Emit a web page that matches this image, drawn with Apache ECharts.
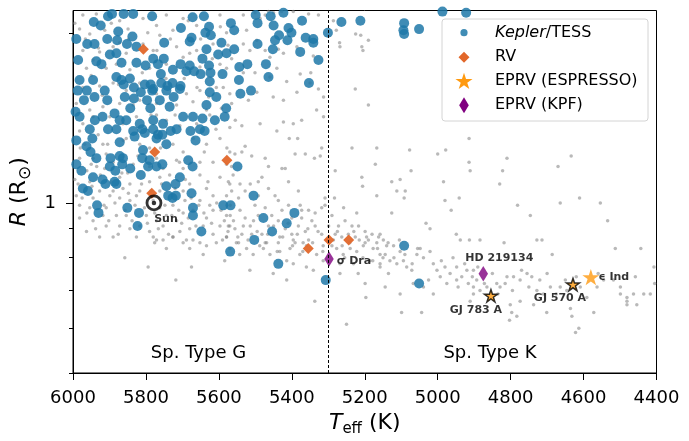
<!DOCTYPE html>
<html>
<head>
<meta charset="utf-8">
<script src="https://cdn.jsdelivr.net/npm/echarts@6/dist/echarts.min.js"></script>
<style>
  html, body { margin: 0; padding: 0; background: #fff; }
  #chart { width: 689px; height: 441px; }
</style>
</head>
<body>
<div id="chart"></div>
<script>
// ---- data: effective temperature (K) and radius (solar radii) ----

// Transiting planet hosts (Kepler / TESS)
const keplerTess = [
  [5904,2.14],[5893,2.16],[5861,2.16],[5835,2.16],[5783,2.14],[5672,2.13],[5641,2.14],[5943,2.09],[5924,2.06],[5567,2.08],
  [5627,2.05],[5704,2.04],[5637,2.00],[5876,2.01],[5991,1.95],[5837,1.97],[5622,1.98],[5675,1.96],[5906,1.95],[5879,1.94],
  [5750,1.92],[5961,1.91],[5941,1.91],[5852,1.91],[5680,1.93],[5593,1.92],[5826,1.89],[5634,1.87],[5881,1.84],[5899,1.83],
  [5780,1.80],[5751,1.80],[5602,1.83],[5579,1.84],[5645,1.80],[5986,1.79],[5936,1.78],[5922,1.76],[5867,1.77],[5826,1.77],
  [5801,1.75],[5767,1.76],[5705,1.76],[5680,1.75],[5627,1.75],[5623,1.70],[5650,1.69],[5726,1.72],[5689,1.71],[5759,1.69],
  [5668,1.71],[5982,1.65],[5945,1.65],[5881,1.67],[5867,1.65],[5861,1.62],[5844,1.66],[5833,1.60],[5803,1.62],[5787,1.62],
  [5783,1.58],[5758,1.63],[5727,1.63],[5741,1.61],[5705,1.61],[5625,1.64],[5590,1.69],[5625,1.57],[5987,1.58],[5962,1.58],
  [5970,1.52],[5941,1.54],[5913,1.58],[5906,1.52],[5858,1.54],[5833,1.53],[5814,1.57],[5797,1.52],[5780,1.59],[5762,1.52],
  [5744,1.58],[5724,1.54],[5707,1.59],[5735,1.48],[5788,1.47],[5843,1.47],[5886,1.44],[5919,1.42],[5940,1.40],[5982,1.42],
  [5993,1.45],[5872,1.40],[5854,1.40],[5817,1.38],[5780,1.40],[5753,1.38],[5698,1.42],[5671,1.42],[5634,1.49],[5607,1.54],
  [5584,1.42],[5611,1.40],[5645,1.41],
  [5499,2.15],[5423,2.17],[5458,2.14],[5494,2.08],[5372,2.10],[5264,2.09],[5212,2.10],[5558,2.02],[5450,2.06],[5409,2.04],
  [5401,2.00],[5435,1.98],[5446,1.94],[5412,1.94],[5362,1.96],[5341,1.95],[5341,1.92],[5301,2.00],[5494,1.91],[5558,1.87],
  [5452,1.87],[5377,1.85],[5327,1.79],[5522,1.76],[5544,1.74],[5471,1.76],[5464,1.67],[5545,1.65],[5353,1.63],[5512,1.58],
  [5541,1.56],[5580,1.47],
  [5092,2.08],[5094,2.02],[5092,1.99],[5051,2.03],[4987,2.18],[4922,2.17],
  [5954,1.35],[5904,1.35],[5881,1.35],[5835,1.34],[5831,1.31],[5810,1.35],[5803,1.33],[5780,1.35],[5767,1.32],[5755,1.32],
  [5732,1.34],[5716,1.35],[5678,1.34],[5664,1.29],[5652,1.35],[5639,1.34],[5947,1.30],[5872,1.28],[5771,1.30],[5744,1.27],
  [5991,1.29],[5963,1.26],[5952,1.23],[5936,1.20],[5897,1.20],[5872,1.21],[5863,1.20],[5808,1.24],[5810,1.20],[5790,1.19],
  [5771,1.16],[5755,1.17],[5865,1.17],[5794,1.16],[5843,1.15],[5991,1.17],[5977,1.14],[5899,1.16],[5884,1.14],[5945,1.11],
  [5919,1.10],[5911,1.08],[5886,1.09],[5881,1.08],[5814,1.12],[5707,1.11],[5719,1.08],[5744,1.07],[5684,1.19],[5672,1.16],
  [5675,1.04],[5973,1.06],[5959,1.05],[5934,0.99],[5930,0.96],[5851,0.98],[5819,0.96],[5823,0.91],[5739,1.03],[5727,1.02],
  [5718,1.03],[5671,0.98],[5671,0.95],[5648,0.89],[5588,0.99],[5568,0.99],
  [5549,1.16],[5505,1.03],[5478,0.94],[5393,0.96],[5414,0.92],[5454,0.89],[5503,0.86],
  [5569,0.82],[5437,0.78],[5307,0.73],[5092,0.84],[5051,0.72]
];

// Radial-velocity targets
const rvStars = [
  [5807,1.87],[5776,1.23],[5784,1.04],[5578,1.19],[5355,0.83],[5298,0.86],[5244,0.86]
];

// Extreme-precision RV targets
const espressoNames  = ['GJ 783 A', 'GJ 570 A', 'ϵ Ind'];
const espressoTeff   = [4854, 4629, 4580];
const espressoRadius = [0.685, 0.717, 0.739];

const kpfNames  = ['σ Dra', 'HD 219134'];
const kpfTeff   = [5298, 4875];
const kpfRadius = [0.796, 0.749];

const sunStar = { name: 'Sun', teff: 5778, radius: 1.0 };

// Field stars from the background sample
const fieldStars = [
  [5973,2.15],[5936,2.16],[5872,2.10],[5808,2.12],[5744,2.15],[5698,2.12],[5597,2.15],[5982,2.03],[5954,1.99],[5913,2.02],
  [5849,2.03],[5771,2.06],[5726,2.02],[5661,2.06],[5579,2.00],[5973,1.86],[5927,1.85],[5890,1.89],[5854,1.84],[5808,1.91],
  [5780,1.86],[5716,1.89],[5661,1.86],[5616,1.91],[5575,1.90],[5963,1.73],[5909,1.73],[5881,1.76],[5844,1.72],[5790,1.73],
  [5744,1.76],[5698,1.81],[5652,1.74],[5597,1.76],[5579,1.73],[5973,1.60],[5927,1.61],[5890,1.63],[5854,1.58],[5817,1.63],
  [5771,1.56],[5689,1.56],[5652,1.58],[5607,1.60],[5570,1.56],[5991,1.50],[5954,1.46],[5918,1.48],[5872,1.50],[5817,1.52],
  [5771,1.50],[5716,1.49],[5671,1.51],[5634,1.46],[5593,1.47],[5565,1.50],[5973,1.38],[5945,1.42],[5899,1.42],[5863,1.38],
  [5826,1.42],[5771,1.43],[5744,1.40],[5707,1.37],[5661,1.38],[5625,1.43],[5570,1.36],[5872,1.92],[5762,1.98],[5680,1.84],
  [5945,1.79],
  [5278,2.02],[5269,1.92],[5268,1.89],[5225,1.99],[5211,1.98],[5208,1.89],[5205,1.86],[5190,1.94],[5226,1.59],[5190,1.49],
  [5533,2.15],[5524,2.02],[5501,2.17],[5487,2.12],[5473,2.15],[5464,2.18],[5450,2.17],[5428,2.18],[5396,2.18],[5354,2.16],
  [5327,2.15],[5286,2.10],[5533,1.91],[5515,1.86],[5496,1.94],[5473,1.86],[5460,1.81],[5437,1.87],[5423,1.84],[5386,1.89],
  [5341,1.82],[5533,1.70],[5501,1.70],[5460,1.67],[5441,1.73],[5414,1.64],[5377,1.69],[5348,1.70],[5519,1.52],[5496,1.57],
  [5451,1.54],[5423,1.52],[5386,1.57],[5350,1.63],[5327,1.59],[5313,1.54],[5537,1.37],[5487,1.38],[5423,1.39],[5396,1.38],
  [5373,1.40],[5332,1.46],[5313,1.42],
  [5441,1.34],[5407,1.30],[5384,1.30],[5318,1.25],[5235,1.25],[5167,1.25],[5208,1.11],[5206,1.07],[5171,1.17],[5167,1.03],
  [5281,1.14],[5283,1.02],[5309,1.02],[5322,1.21],[5363,1.22],[5338,1.20],[5391,1.22],[5427,1.15],[5418,1.15],[5473,1.20],
  [5464,1.16],[5482,1.11],[5510,1.21],[5537,1.23],[5528,1.26],[5556,1.22],[5565,1.16],[5574,1.09],[5542,1.08],[5514,1.08],
  [5492,1.09],[5464,1.06],[5446,1.03],[5437,1.01],[5409,0.99],[5377,0.99],[5373,0.97],[5354,0.97],[5336,0.96],[5318,0.98],
  [5309,0.99],[5290,0.95],[5272,0.91],[5254,0.93],[5235,0.91],[5217,0.91],[5199,0.89],[5180,0.88],[5162,0.87],[5222,0.96],
  [5258,0.98],[5569,0.95],[5542,0.97],[5528,0.94],[5514,0.91],[5492,0.95],[5501,0.99],[5473,0.98],[5546,1.02],[5565,1.05],
  [5574,0.91],[5556,0.90],[5537,0.88],[5510,0.88],[5482,0.88],[5464,0.91],[5437,0.93],[5418,0.90],[5400,0.88],[5382,0.91],
  [5363,0.89],[5336,0.91],[5318,0.88],[5354,0.86],[5391,0.85],[5437,0.85],[5473,0.85],[5546,0.85],[5528,1.05],[5492,1.03],
  [5455,0.95],[5427,0.97],[5400,0.94],[5373,0.94],[5345,0.93],[5299,0.91],[5281,0.88],[5263,0.87],[5245,0.88],[5226,0.87],
  [5199,0.85],[5569,0.99],[5409,1.09],[5382,1.05],
  [5858,0.80],[5794,0.77],[5718,0.73],[5675,0.77],[5584,0.79],[5515,0.76],[5451,0.75],[5414,0.73],[5360,0.77],[5341,0.76],
  [5337,0.67],[5250,0.61],[5199,0.72],[5197,0.68],[5268,0.75],[5218,0.75],[5780,0.87],[5753,0.86],[5726,0.87],[5698,0.85],
  [5671,0.86],[5634,0.84],[5607,0.85],[5579,0.87],[5552,0.85],[5524,0.83],[5488,0.84],[5469,0.85],[5433,0.82],[5405,0.83],
  [5378,0.81],[5360,0.84],[5332,0.81],[5277,0.83],[5259,0.81],[5222,0.82],[5204,0.84],[5177,0.83],[5158,0.81],[5433,0.87],
  [5396,0.86],[5369,0.85],[5314,0.84],[5286,0.86],[5241,0.85],[5195,0.87],[5167,0.85],[5543,0.81],[5506,0.81],[5460,0.81],
  [5414,0.79],[5396,0.78],[5314,0.79],[5268,0.78],[5231,0.78],[5186,0.79],[5158,0.77],[5776,0.85],[5680,0.83],[5643,0.81],
  [5570,0.83],[5744,0.83],
  [5982,1.34],[5968,1.27],[5931,1.32],[5918,1.27],[5854,1.30],[5817,1.27],[5790,1.25],[5726,1.27],[5698,1.23],[5634,1.27],
  [5597,1.30],[5570,1.23],[5616,1.18],[5652,1.12],[5597,1.11],[5570,1.08],[5982,1.20],[5950,1.17],[5913,1.15],[5872,1.11],
  [5844,1.08],[5817,1.05],[5790,1.09],[5762,1.11],[5735,1.12],[5698,1.15],[5680,1.08],[5634,1.06],[5616,1.03],[5579,1.03],
  [5986,1.08],[5954,1.09],[5927,1.05],[5899,1.03],[5872,1.02],[5844,1.01],[5826,1.03],[5762,1.05],[5698,1.05],[5652,1.01],
  [5616,0.97],[5579,0.95],[5982,0.99],[5954,0.98],[5909,0.98],[5881,0.95],[5854,0.95],[5799,0.95],[5762,0.98],[5726,0.99],
  [5698,0.96],[5634,0.94],[5597,0.91],[5570,0.91],[5982,0.94],[5945,0.93],[5909,0.91],[5872,0.91],[5844,0.90],[5790,0.89],
  [5753,0.91],[5716,0.93],[5680,0.90],[5643,0.91],[5616,0.88],[5579,0.87],[5963,0.89],[5927,0.87],[5890,0.87],[5826,0.87],
  [5771,0.86],[5726,0.87],[5689,0.86],[5652,0.85],[5991,1.03],[5890,1.05],[5780,1.01],[5726,1.03],[5671,0.97],[5744,0.95],
  [5817,0.91],[5945,1.02],[5918,0.95],[5771,0.93],[5707,0.89],[5625,0.99],[5835,1.17],[5771,1.20],[5716,1.19],[5909,1.22],
  [5945,1.20],[5790,1.16],[5753,1.15],[5579,1.17],[5561,1.12],[5863,1.06],[5652,1.18],[5693,1.01],
  [4914,1.30],[5077,1.24],[5000,1.22],[4978,1.24],[5073,1.14],[4914,1.18],[4911,1.14],[4810,1.20],[4822,1.14],[4634,1.21],
  [4670,1.16],[4830,1.08],[4984,1.09],[5126,1.09],[5103,1.10],[5112,1.05],[5089,1.05],[5092,1.02],[4980,1.01],[4941,1.02],
  [4963,0.97],[5126,0.96],[4781,0.99],[4746,0.95],[4664,1.00],[4611,1.02],[4554,1.00],[4534,0.93],[4513,0.83],[4443,0.83],
  [5032,0.92],[5021,0.90],[4949,0.88],[4938,0.86],[4913,0.86],[4884,0.86],[4818,0.85],[4728,0.86],[4714,0.86],[4686,0.81],
  [5158,0.88],[5149,0.86],[5140,0.84],[5121,0.84],[5103,0.82],[5144,0.81],[5131,0.79],[5112,0.78],[5094,0.79],[5085,0.77],
  [5071,0.76],[5057,0.81],[5039,0.80],[5048,0.83],[5021,0.82],[5012,0.78],[5002,0.76],[4993,0.74],[4980,0.77],[4966,0.75],
  [4948,0.73],[4934,0.74],[4920,0.76],[4902,0.76],[4893,0.73],[4916,0.72],[4948,0.77],[4902,0.71],[4884,0.70],[4865,0.71],
  [4838,0.72],[4829,0.71],[4810,0.74],[4792,0.74],[4774,0.73],[4755,0.75],[4742,0.74],[4728,0.70],[4710,0.69],[4691,0.71],
  [4664,0.71],[4646,0.70],[4609,0.71],[4591,0.68],[4563,0.71],[4545,0.73],[4518,0.73],[4499,0.69],[4481,0.68],[4463,0.69],
  [4435,0.69],[4417,0.69],[4405,0.72],[4454,0.66],[4481,0.66],[4572,0.64],[4636,0.65],[4701,0.64],[4737,0.66],[4774,0.67],
  [4801,0.66],[4797,0.64],[5039,0.71],[5067,0.72],[5103,0.69],[5135,0.75],[5158,0.78],[5012,0.69],[5025,0.73],[5099,0.64],
  [5044,0.64],[4902,0.69],[4783,0.63],[5144,0.71],[4911,0.67],
  [4632,0.63],[4622,0.59],[4613,0.60],[4803,0.62],[4407,0.77],[4458,0.74],[4499,0.71],[4481,0.67],
  [5995,1.10],[5975,1.02],[5962,0.96],[5948,1.07],[5938,0.90],[5925,1.12],[5915,0.99],[5902,0.93],[5895,1.09],[5885,1.00],
  [5876,0.88],[5866,1.13],[5857,0.97],[5848,1.04],[5838,0.93],[5830,0.99],[5812,1.08],[5804,0.98],[5796,0.92],[5786,1.05],
  [5776,0.96],[5766,0.90],[5757,1.08],[5748,0.99],[5738,0.88],[5729,0.95],[5720,1.06],[5710,0.97],[5702,0.92],[5692,1.10],
  [5684,0.94],[5676,1.02],[5663,0.91],[5655,0.99],[5641,0.96],[5630,1.09],[5620,0.92],[5606,1.00],[5594,0.97],[5585,0.93],
  [5590,0.86],[5575,0.89],[5560,0.93],[5548,0.87],[5533,0.91],[5520,0.86],[5505,0.93],[5495,0.89],[5478,0.83],[5466,0.88],
  [5450,0.91],[5440,0.82],[5425,0.87],[5410,0.92],[5398,0.84],[5385,0.88],[5370,0.82],[5356,0.90],[5343,0.85],[5328,0.89],
  [5315,0.82],[5305,0.86],[5290,0.84],[5275,0.89],[5262,0.84],
  [5255,0.80],[5240,0.83],[5230,0.89],[5215,0.86],[5205,0.80],[5190,0.86],[5178,0.79],[5165,0.83],[5150,0.80],[5136,0.85],
  [5120,0.80],[5105,0.86],[5090,0.81],[5070,0.78],[5055,0.83],
  [4990,0.79],[4975,0.72],[4958,0.80],[4944,0.71],[4926,0.78],[4905,0.74],[4890,0.77],[4872,0.72],[4850,0.75],[4835,0.69],
  [4815,0.72],[4795,0.70],[4770,0.76],[4750,0.71],[4720,0.73],[4700,0.75],[4675,0.69],[4650,0.73],[4620,0.74],[4560,0.75],
  [5995,2.08],[5966,1.95],[5950,1.68],[5930,1.88],[5920,1.55],[5905,1.27],[5895,2.08],[5875,1.62],[5862,1.29],[5848,1.95],
  [5835,1.49],[5822,1.21],[5810,1.70],[5795,2.00],[5786,1.43],[5770,1.86],[5760,1.25],[5745,1.66],[5733,1.95],[5720,1.43],
  [5708,1.18],[5695,1.66],[5684,2.10],[5670,1.30],[5660,1.60],[5650,1.95],[5640,1.23],[5628,1.54],[5618,1.80],[5608,1.35],
  [5596,2.05],[5588,1.60],[5578,1.25],[5565,1.80],[5555,1.40],[5980,1.25],[5962,1.14],[5935,1.16],[5890,1.18],[5850,1.13]
];

// axis ticks
const teffMin = 4400, teffMax = 6000, teffStep = 200;
const radiusMin = 0.5, radiusMax = 2.19;
const radiusMajorTicks = [1];
const radiusMinorTicks = [0.5, 0.6, 0.7, 0.8, 0.9, 2];

// legend entries
const legendNames = ['Kepler/TESS', 'RV', 'EPRV (ESPRESSO)', 'EPRV (KPF)'];

// ---- styling ----
const FONT = 'DejaVu Sans';
const STAR = 'path://M50,0L61.2,34.5L97.6,34.5L68.2,55.9L79.4,90.5L50,69.1L20.6,90.5L31.8,55.9L2.4,34.5L38.8,34.5Z';
const THIN_DIAMOND = 'path://M3,0L6,5L3,10L0,5Z';
const BLUE = '#1f78a8', ORANGE = '#e2672a', GOLD = '#ff9a10', PURPLE = '#800080';

// label placement for the named stars (offset from the marker centre, px)
const labelOffset = {
  'GJ 783 A': [-15, 14], 'GJ 570 A': [-13, 14], 'ϵ Ind': [23, 0],
  'σ Dra': [25, 2], 'HD 219134': [16, -16], 'Sun': [12, 16]
};
function starLabel(name) {
  return {
    show: true, formatter: '{b}', position: 'inside', offset: labelOffset[name],
    fontSize: 11, fontWeight: 'bold', fontFamily: FONT, color: '#000',
    textBorderWidth: 0
  };
}

const espressoData = espressoNames.map((n, i) => {
  const outlined = n !== 'ϵ Ind';
  return {
    name: n, value: [espressoTeff[i], espressoRadius[i]],
    symbolSize: outlined ? 13 : 17,
    itemStyle: outlined ? { borderColor: '#000', borderWidth: 1.5 } : {},
    label: starLabel(n)
  };
});
const kpfData = kpfNames.map((n, i) => ({
  name: n, value: [kpfTeff[i], kpfRadius[i]], label: starLabel(n)
}));

// legend box: marker column at x=464, text column at x=495
function starPoints(cx, cy, R) {
  const pts = [];
  for (let k = 0; k < 10; k++) {
    const r = k % 2 === 0 ? R : R * 0.382;
    const a = -Math.PI / 2 + k * Math.PI / 5;
    pts.push([cx + r * Math.cos(a), cy + r * Math.sin(a)]);
  }
  return pts;
}
const rowY = [32.7, 57.3, 81, 105.3];
const mx = 464, tx = 495;
const legendGraphics = [
  { type: 'rect', z: 10, silent: true,
    shape: { x: 442, y: 19, width: 206, height: 102, r: 3 },
    style: { fill: 'rgba(255,255,255,0.85)', stroke: '#d4d4d4', lineWidth: 1 } },
  { type: 'circle', z: 11, silent: true, shape: { cx: mx, cy: rowY[0], r: 3.6 },
    style: { fill: BLUE, opacity: 0.85 } },
  { type: 'polygon', z: 11, silent: true,
    shape: { points: [[mx, rowY[1] - 5.5], [mx + 5.5, rowY[1]], [mx, rowY[1] + 5.5], [mx - 5.5, rowY[1]]] },
    style: { fill: ORANGE } },
  { type: 'polygon', z: 11, silent: true, shape: { points: starPoints(mx, rowY[2] + 0.8, 9) },
    style: { fill: GOLD } },
  { type: 'polygon', z: 11, silent: true,
    shape: { points: [[mx, rowY[3] - 8], [mx + 4.8, rowY[3]], [mx, rowY[3] + 8], [mx - 4.8, rowY[3]]] },
    style: { fill: PURPLE } }
].concat(legendNames.map((n, i) => ({
  type: 'text', z: 11, silent: true, x: tx, y: rowY[i],
  style: {
    text: n === 'Kepler/TESS' ? '{i|Kepler}/TESS' : n,
    rich: { i: { fontStyle: 'italic', fontSize: 16, fontFamily: FONT, fill: '#000' } },
    fontSize: 16, fontFamily: FONT, fill: '#000', align: 'left', verticalAlign: 'middle'
  }
})));

const chart = echarts.init(document.getElementById('chart'), null, { renderer: 'canvas' });

chart.setOption({
  animation: false,
  backgroundColor: '#fff',
  textStyle: { fontFamily: FONT },
  grid: {
    left: 73, right: 32.5, top: 10.5, bottom: 68,
    outerBoundsMode: 'none', containLabel: false,
    show: true, borderColor: '#000', borderWidth: 1, backgroundColor: 'transparent'
  },
  xAxis: {
    type: 'value', inverse: true, min: teffMin, max: teffMax, interval: teffStep,
    axisLine: { show: true, lineStyle: { color: '#000', width: 1 } },
    axisTick: { show: true, length: 7, lineStyle: { color: '#000', width: 1 } },
    axisLabel: { fontSize: 18, margin: 16, color: '#000', fontFamily: FONT, formatter: v => String(v) },
    splitLine: { show: false },
    name: '{i|T}{s|eff}{n| (K)}', nameLocation: 'middle', nameGap: 36,
    nameTextStyle: {
      rich: {
        i: { fontSize: 22, fontStyle: 'italic', fontFamily: FONT, color: '#000', lineHeight: 28, verticalAlign: 'middle' },
        s: { fontSize: 15, fontFamily: FONT, color: '#000', lineHeight: 14, verticalAlign: 'bottom' },
        n: { fontSize: 22, fontFamily: FONT, color: '#000', lineHeight: 28, verticalAlign: 'middle' }
      }
    }
  },
  yAxis: [
    {
      type: 'log', logBase: 10, min: radiusMin, max: radiusMax,
      axisLine: { show: true, lineStyle: { color: '#000', width: 1 } },
      axisTick: { show: true, length: 7, customValues: radiusMajorTicks, lineStyle: { color: '#000', width: 1 } },
      axisLabel: { customValues: radiusMajorTicks, formatter: v => String(Math.round(v)), fontSize: 18, margin: 17, color: '#000', fontFamily: FONT },
      splitLine: { show: false },
      name: '{i|R}{n| (R}{o|⊙}{n|)}', nameLocation: 'middle', nameRotate: 90, nameGap: 35,
      nameTextStyle: {
        rich: {
          i: { fontSize: 22, fontStyle: 'italic', fontFamily: FONT, color: '#000', lineHeight: 28, verticalAlign: 'middle' },
          n: { fontSize: 22, fontFamily: FONT, color: '#000', lineHeight: 28, verticalAlign: 'middle' },
          o: { fontSize: 17, fontFamily: FONT, color: '#000', lineHeight: 20, verticalAlign: 'bottom' }
        }
      }
    },
    {
      type: 'log', logBase: 10, min: radiusMin, max: radiusMax, position: 'left',
      axisLine: { show: false },
      axisTick: { show: true, length: 4, customValues: radiusMinorTicks, lineStyle: { color: '#000', width: 1 } },
      axisLabel: { show: false },
      splitLine: { show: false }
    }
  ],
  graphic: legendGraphics.concat([
    { type: 'text', z: 10, silent: true, x: 198.5, y: 353,
      style: { text: 'Sp. Type G', fontSize: 18, fontFamily: FONT, fill: '#000', align: 'center', verticalAlign: 'middle' } },
    { type: 'text', z: 10, silent: true, x: 490, y: 353,
      style: { text: 'Sp. Type K', fontSize: 18, fontFamily: FONT, fill: '#000', align: 'center', verticalAlign: 'middle' } }
  ]),
  series: [
    {
      name: 'Field', type: 'scatter', data: fieldStars, z: 1, silent: true,
      symbol: 'circle', symbolSize: 3.5,
      itemStyle: { color: '#808080', opacity: 0.55 },
      markLine: {
        silent: true, symbol: ['none', 'none'], label: { show: false },
        lineStyle: { color: '#000', width: 1, type: [3, 2] },
        data: [{ xAxis: 5300 }]
      }
    },
    {
      name: 'Kepler/TESS', type: 'scatter', data: keplerTess, z: 2, silent: true,
      symbol: 'circle', symbolSize: 10,
      itemStyle: { color: BLUE, opacity: 0.85 }
    },
    {
      name: 'RV', type: 'scatter', data: rvStars, z: 3, silent: true,
      symbol: 'diamond', symbolSize: 11,
      itemStyle: { color: ORANGE, opacity: 0.95 }
    },
    {
      name: 'EPRV (KPF)', type: 'scatter', data: kpfData, z: 4, silent: true,
      symbol: THIN_DIAMOND, symbolSize: [9.5, 15.5], symbolKeepAspect: false,
      itemStyle: { color: PURPLE }
    },
    {
      name: 'EPRV (ESPRESSO)', type: 'scatter', data: espressoData, z: 5, silent: true,
      symbol: STAR, symbolKeepAspect: true, symbolSize: 17,
      itemStyle: { color: GOLD }
    },
    {
      name: 'Sun ring', type: 'scatter', z: 6, silent: true,
      data: [{ name: sunStar.name, value: [sunStar.teff, sunStar.radius], label: starLabel(sunStar.name) }],
      symbol: 'circle', symbolSize: 14,
      itemStyle: { color: 'rgba(255,255,255,0)', borderColor: '#000', borderWidth: 2.8 }
    },
    {
      name: 'Sun dot', type: 'scatter', z: 6, silent: true,
      data: [[sunStar.teff, sunStar.radius]],
      symbol: 'circle', symbolSize: 4.5,
      itemStyle: { color: '#000' }
    }
  ]
});
</script>
</body>
</html>
